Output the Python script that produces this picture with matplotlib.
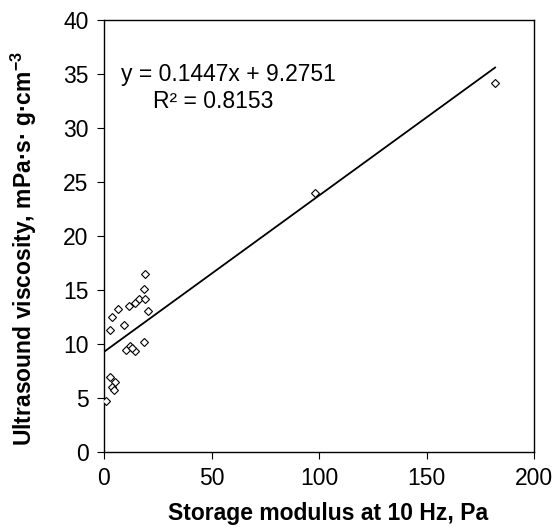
import numpy as np
import matplotlib
matplotlib.use("Agg")
import matplotlib.pyplot as plt

plt.rcParams['font.family'] = ['Liberation Sans', 'DejaVu Sans']
plt.rcParams['mathtext.fontset'] = 'custom'
plt.rcParams['mathtext.rm'] = 'Liberation Sans'
plt.rcParams['mathtext.bf'] = 'Liberation Sans:bold'

# storage modulus (Pa) vs ultrasound viscosity
storage_modulus = [19.0, 18.5, 16.2, 19.0, 14.6, 11.5, 20.5, 6.6, 3.5, 9.2, 2.9,
                   18.5, 12.3, 10.3, 14.3, 13.1, 3.0, 5.0, 3.8, 4.6, 1.0,
                   98.0, 181.9]
us_viscosity = [16.5, 15.1, 14.2, 14.2, 13.8, 13.5, 13.1, 13.2, 12.5, 11.8, 11.3,
                10.2, 9.8, 9.4, 9.35, 9.6, 6.9, 6.5, 6.05, 5.7, 4.7,
                23.95, 34.2]

slope = 0.1447
intercept = 9.2751
r2 = 0.8153
x_ticks = [0, 50, 100, 150, 200]
y_ticks = [0, 5, 10, 15, 20, 25, 30, 35, 40]

fs = 16.5

fig = plt.figure(figsize=(5.57, 5.28), dpi=100)
ax = fig.add_axes([104 / 557, 1 - 452 / 528, (534 - 104) / 557, (452 - 20) / 528])

xs = np.array([0, max(storage_modulus)])
ax.plot(xs, slope * xs + intercept, color='black', lw=1.3, zorder=2)
ax.plot(storage_modulus, us_viscosity, linestyle='none', marker='D', markersize=4.5,
        markerfacecolor='white', markeredgecolor='black', markeredgewidth=0.8, zorder=3)

ax.set_xlim(0, 200)
ax.set_ylim(0, 40)
ax.set_xticks(x_ticks)
ax.set_yticks(y_ticks)
ax.tick_params(direction='out', length=5, width=0.8, labelsize=fs, pad=6)
for s in ax.spines.values():
    s.set_linewidth(1.0)

ax.text(0.29, 0.873, 'y = %.4fx + %.4f' % (slope, intercept), transform=ax.transAxes,
        fontsize=fs, ha='center', va='center')
ax.text(0.255, 0.8125, 'R² = %.4f' % r2, transform=ax.transAxes,
        fontsize=fs, ha='center', va='center')

ax.set_xlabel('Storage modulus at 10 Hz, Pa', fontsize=fs, fontweight='bold')
ax.set_ylabel(r'Ultrasound viscosity, mPa·s· g·cm$^{\mathbf{-3}}$', fontsize=fs,
              fontweight='bold')
ax.xaxis.set_label_coords(0.52, -0.115)
ax.yaxis.set_label_coords(-0.15, 0.47)

fig.savefig('out.png', dpi=100)
